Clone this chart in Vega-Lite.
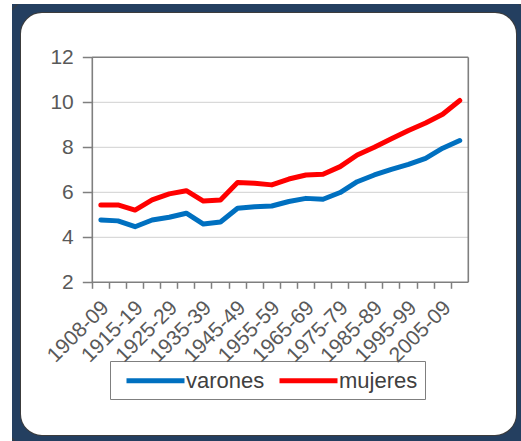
{
  "$schema": "https://vega.github.io/schema/vega-lite/v6.json",
  "width": 513,
  "height": 440,
  "autosize": {"type": "none"},
  "padding": {"left": 12, "top": 4, "right": -4, "bottom": -3},
  "background": "white",
  "config": {
    "font": "Liberation Sans",
    "view": {"fill": "#243F60", "stroke": null}
  },
  "datasets": {
    "esperanza": [
      {"periodo": "1908-09", "sexo": "varones", "valor": 4.77},
      {"periodo": "1910-14", "sexo": "varones", "valor": 4.73},
      {"periodo": "1915-19", "sexo": "varones", "valor": 4.47},
      {"periodo": "1920-24", "sexo": "varones", "valor": 4.77},
      {"periodo": "1925-29", "sexo": "varones", "valor": 4.89},
      {"periodo": "1930-34", "sexo": "varones", "valor": 5.07},
      {"periodo": "1935-39", "sexo": "varones", "valor": 4.59},
      {"periodo": "1940-44", "sexo": "varones", "valor": 4.68},
      {"periodo": "1945-49", "sexo": "varones", "valor": 5.29},
      {"periodo": "1950-54", "sexo": "varones", "valor": 5.36},
      {"periodo": "1955-59", "sexo": "varones", "valor": 5.39},
      {"periodo": "1960-64", "sexo": "varones", "valor": 5.59},
      {"periodo": "1965-69", "sexo": "varones", "valor": 5.73},
      {"periodo": "1970-74", "sexo": "varones", "valor": 5.69},
      {"periodo": "1975-79", "sexo": "varones", "valor": 5.99},
      {"periodo": "1980-84", "sexo": "varones", "valor": 6.47},
      {"periodo": "1985-89", "sexo": "varones", "valor": 6.77},
      {"periodo": "1990-94", "sexo": "varones", "valor": 7.02},
      {"periodo": "1995-99", "sexo": "varones", "valor": 7.24},
      {"periodo": "2000-04", "sexo": "varones", "valor": 7.51},
      {"periodo": "2005-09", "sexo": "varones", "valor": 7.96},
      {"periodo": "2010-14", "sexo": "varones", "valor": 8.3},
      {"periodo": "1908-09", "sexo": "mujeres", "valor": 5.44},
      {"periodo": "1910-14", "sexo": "mujeres", "valor": 5.44},
      {"periodo": "1915-19", "sexo": "mujeres", "valor": 5.21},
      {"periodo": "1920-24", "sexo": "mujeres", "valor": 5.66},
      {"periodo": "1925-29", "sexo": "mujeres", "valor": 5.93},
      {"periodo": "1930-34", "sexo": "mujeres", "valor": 6.07},
      {"periodo": "1935-39", "sexo": "mujeres", "valor": 5.61},
      {"periodo": "1940-44", "sexo": "mujeres", "valor": 5.66},
      {"periodo": "1945-49", "sexo": "mujeres", "valor": 6.44},
      {"periodo": "1950-54", "sexo": "mujeres", "valor": 6.4},
      {"periodo": "1955-59", "sexo": "mujeres", "valor": 6.33},
      {"periodo": "1960-64", "sexo": "mujeres", "valor": 6.59},
      {"periodo": "1965-69", "sexo": "mujeres", "valor": 6.77},
      {"periodo": "1970-74", "sexo": "mujeres", "valor": 6.8},
      {"periodo": "1975-79", "sexo": "mujeres", "valor": 7.14},
      {"periodo": "1980-84", "sexo": "mujeres", "valor": 7.66},
      {"periodo": "1985-89", "sexo": "mujeres", "valor": 8.0},
      {"periodo": "1990-94", "sexo": "mujeres", "valor": 8.38},
      {"periodo": "1995-99", "sexo": "mujeres", "valor": 8.75},
      {"periodo": "2000-04", "sexo": "mujeres", "valor": 9.08},
      {"periodo": "2005-09", "sexo": "mujeres", "valor": 9.47},
      {"periodo": "2010-14", "sexo": "mujeres", "valor": 10.08}
    ],
    "rejilla": [{"y": 4}, {"y": 6}, {"y": 8}, {"y": 10}],
    "borde": [{"y": 2}, {"y": 12}],
    "marco": [{}]
  },
  "layer": [
    {
      "data": {"name": "marco"},
      "mark": {"type": "rect", "fill": "white", "stroke": "#3c3c3c", "strokeWidth": 18, "cornerRadius": 30, "clip": true},
      "encoding": {}
    },
    {
      "data": {"name": "marco"},
      "mark": {"type": "rect", "fill": null, "stroke": "#243F60", "strokeWidth": 16, "cornerRadius": 30, "clip": true},
      "encoding": {}
    },
    {
      "data": {"name": "rejilla"},
      "mark": {"type": "rule", "color": "#D9D9D9", "strokeWidth": 1.2},
      "encoding": {
        "x": {"datum": "1908-09", "type": "nominal", "bandPosition": 0},
        "x2": {"datum": "2010-14", "bandPosition": 1},
        "y": {"field": "y", "type": "quantitative"}
      }
    },
    {
      "data": {"name": "borde"},
      "mark": {"type": "rule", "color": "#7f7f7f", "strokeWidth": 1.6},
      "encoding": {
        "x": {"datum": "1908-09", "type": "nominal", "bandPosition": 0},
        "x2": {"datum": "2010-14", "bandPosition": 1},
        "y": {"field": "y", "type": "quantitative"}
      }
    },
    {
      "data": {"name": "marco"},
      "mark": {"type": "rule", "color": "#7f7f7f", "strokeWidth": 1.6},
      "encoding": {
        "x": {"datum": "1908-09", "type": "nominal", "bandPosition": 0},
        "y": {"datum": 2, "type": "quantitative"},
        "y2": {"datum": 12}
      }
    },
    {
      "data": {"name": "marco"},
      "mark": {"type": "rule", "color": "#7f7f7f", "strokeWidth": 1.6},
      "encoding": {
        "x": {"datum": "2010-14", "type": "nominal", "bandPosition": 1},
        "y": {"datum": 2, "type": "quantitative"},
        "y2": {"datum": 12}
      }
    },
    {
      "data": {"name": "esperanza"},
      "mark": {"type": "line", "strokeWidth": 5, "strokeJoin": "round", "strokeCap": "round"},
      "encoding": {
        "x": {
          "field": "periodo",
          "type": "nominal",
          "sort": null,
          "bandPosition": 0.5,
          "scale": {
            "type": "band",
            "domain": ["1908-09", "1910-14", "1915-19", "1920-24", "1925-29", "1930-34", "1935-39", "1940-44", "1945-49", "1950-54", "1955-59", "1960-64", "1965-69", "1970-74", "1975-79", "1980-84", "1985-89", "1990-94", "1995-99", "2000-04", "2005-09", "2010-14"],
            "range": [80.3, 456.3],
            "paddingInner": 0,
            "paddingOuter": 0
          },
          "axis": {
            "orient": "bottom",
            "offset": -161.7,
            "zindex": 1,
            "bandPosition": 0,
            "labelOffset": 5,
            "labelAngle": -45,
            "labelExpr": "substring(datum.label, 6) == '4' ? '' : datum.label",
            "labelOverlap": false,
            "labelFontSize": 21,
            "labelColor": "#595959",
            "labelPadding": 16,
            "tickSize": 6,
            "tickColor": "#7f7f7f",
            "tickWidth": 1.5,
            "domain": false,
            "grid": false,
            "title": null
          }
        },
        "y": {
          "field": "valor",
          "type": "quantitative",
          "scale": {"domain": [2, 12], "range": [278.3, 53.3], "nice": false, "zero": false},
          "axis": {
            "orient": "left",
            "offset": -80.3,
            "zindex": 1,
            "values": [2, 4, 6, 8, 10, 12],
            "labelOverlap": false,
            "labelFontSize": 21,
            "labelColor": "#595959",
            "labelPadding": 9,
            "tickSize": 10,
            "tickColor": "#7f7f7f",
            "tickWidth": 1.5,
            "domain": false,
            "grid": false,
            "title": null
          }
        },
        "color": {
          "field": "sexo",
          "type": "nominal",
          "scale": {"domain": ["varones", "mujeres"], "range": ["#0070C0", "#FF0000"]},
          "legend": {
            "title": null,
            "orient": "none",
            "legendX": 98,
            "legendY": 357,
            "direction": "horizontal",
            "symbolType": "M-2.9,0H2.9",
            "symbolSize": 400,
            "symbolStrokeWidth": 5,
            "symbolOffset": 26,
            "labelFontSize": 22,
            "labelColor": "#404040",
            "labelOffset": 18,
            "columnPadding": 4,
            "padding": 7,
            "strokeColor": "#7f7f7f",
            "fillColor": "white"
          }
        }
      }
    }
  ]
}
